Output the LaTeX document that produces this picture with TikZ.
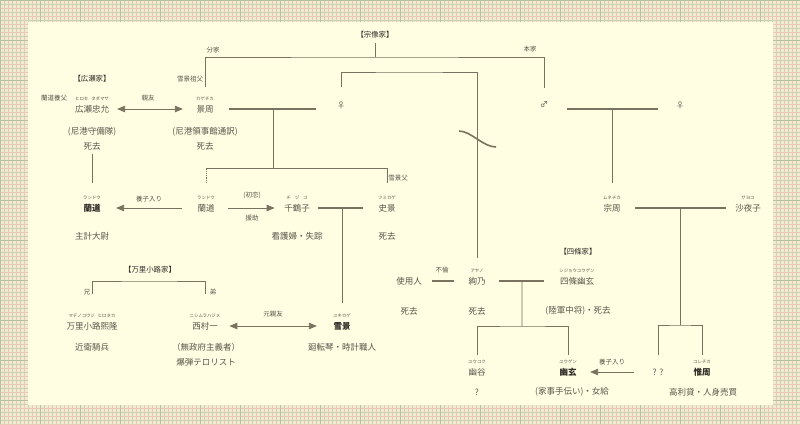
\documentclass[tikz,border=0pt]{standalone}
\usepackage{fontspec}
\setmainfont{Noto Sans CJK JP}
\usepackage{tikz}
\usetikzlibrary{positioning}
\usetikzlibrary{calc}
\usetikzlibrary{arrows}
\definecolor{paper}{HTML}{F2E9D2}
\definecolor{gridpink}{HTML}{EBC9B6}
\definecolor{gridgreen}{HTML}{CAD2B0}
\definecolor{gridmajor}{HTML}{B7C39E}
\definecolor{sheet}{HTML}{FFFDE2}
\definecolor{ink}{HTML}{5A564B}
\definecolor{inkdark}{HTML}{2E2B26}
\definecolor{wire}{HTML}{79725F}
\tikzset{person/.style={inner sep=0.5pt, text=ink, font=\fontsize{8.5}{8.5}\selectfont},
key/.style={person, text=inkdark, font=\fontsize{8.5}{8.5}\selectfont\bfseries},
note/.style={person},
ruby/.style={inner sep=0.3pt, text=ink, font=\fontsize{4.4}{4.4}\selectfont},
tag/.style={inner sep=0.5pt, text=ink, font=\fontsize{6.5}{6.5}\selectfont},
clan/.style={inner sep=0.5pt, text=inkdark, font=\fontsize{7.4}{7.4}\selectfont},
sign/.style={inner sep=0.5pt, text=ink, font=\fontsize{8}{8}\selectfont},
link/.style={draw=wire, line width=0.8pt},
bond/.style={draw=wire, line width=2pt},
gline/.style={line width=0.35pt},
>={triangle 45}}
\begin{document}
\begin{tikzpicture}[x=1pt,y=-1pt]
  \useasboundingbox (0,0) rectangle (800,424);
  \fill[paper] (0,0) rectangle (800,424);
  \foreach \g in {4,12,...,796} \draw[gline, gridgreen] (\g,0) -- (\g,424);
  \foreach \g in {0,8,...,800} \draw[gline, gridpink] (\g,0) -- (\g,424);
  \foreach \g in {4,12,...,420} \draw[gline, gridgreen] (0,\g) -- (800,\g);
  \foreach \g in {0,8,...,424} \draw[gline, gridpink] (0,\g) -- (800,\g);
  \foreach \g in {0,40,...,800} \draw[gline, gridmajor] (\g,0) -- (\g,424);
  \foreach \g in {0,40,...,400} \draw[gline, gridmajor] (0,\g) -- (800,\g);
  \fill[sheet] (28,22) rectangle (773,405);

  \node[clan] (munakata) at (375,35) {【宗像家】};
  \node[clan] (hirose) at (92,79) {【広瀬家】};
  \node[clan] (madenokoji) at (150,270) {【万里小路家】};
  \node[clan] (shijo) at (578,252) {【四條家】};

  \node[tag] (bunke) at (213,50) {分家};
  \node[tag] (honke) at (530,49) {本家};
  \node[tag] (sofu) at (190,79) {雪景祖父};
  \node[tag] (youfu) at (54,98) {蘭道養父};
  \node[tag] (shinyu) at (148,98) {親友};
  \node[tag] (yoshi1) at (149,199) {養子入り};
  \node[tag] (hatsukoi) at (252,195) {(初恋)};
  \node[tag] (enjo) at (252,218) {援助};
  \node[tag] (chichi) at (398,178) {雪景父};
  \node[tag] (furin) at (442,270) {不倫};
  \node[tag] (ani) at (87,292) {兄};
  \node[tag] (otouto) at (213,292) {弟};
  \node[tag] (motoshinyu) at (273,314) {元親友};
  \node[tag] (yoshi2) at (612,362) {養子入り};

  \node[person] (tadamasa) at (92,109) {広瀬忠允};
  \node[ruby, above=3pt of tadamasa] (tadamasa-r) {ヒロセ\hspace{3pt}タダマサ};
  \node[note] (tadamasa-n) at (92,132) {(尼港守備隊)};
  \node[note] (tadamasa-d) at (92,146) {死去};
  \node[person] (kagechika) at (205,109) {景周};
  \node[ruby, above=3pt of kagechika] (kagechika-r) {カゲチカ};
  \node[note] (kagechika-n) at (205,132) {(尼港領事館通訳)};
  \node[note] (kagechika-d) at (205,146) {死去};
  \node[sign] (venus1) at (341,105) {♀};
  \node[sign] (mars) at (544,105) {♂};
  \node[sign] (venus2) at (680,105) {♀};

  \node[key] (randou1) at (92,208) {蘭道};
  \node[ruby, above=3pt of randou1] (randou1-r) {ランドウ};
  \node[note] (randou1-n) at (92,236) {主計大尉};
  \node[person] (randou2) at (206,208) {蘭道};
  \node[ruby, above=3pt of randou2] (randou2-r) {ランドウ};
  \node[person] (chizuko) at (297,208) {千鶴子};
  \node[ruby, above=3pt of chizuko] (chizuko-r) {チ\hspace{4pt}ヅ\hspace{4pt}コ};
  \node[note] (chizuko-n) at (297,236) {看護婦・失踪};
  \node[person] (fumikage) at (387,208) {史景};
  \node[ruby, above=3pt of fumikage] (fumikage-r) {フミカゲ};
  \node[note] (fumikage-d) at (387,236) {死去};
  \node[person] (munechika) at (612,208) {宗周};
  \node[ruby, above=3pt of munechika] (munechika-r) {ムネチカ};
  \node[person] (sayoko) at (748,208) {沙夜子};
  \node[ruby, above=3pt of sayoko] (sayoko-r) {サヨコ};

  \node[person] (shiyounin) at (409,281) {使用人};
  \node[note] (shiyounin-d) at (409,311) {死去};
  \node[person] (ayano) at (477,281) {絢乃};
  \node[ruby, above=3pt of ayano] (ayano-r) {アヤノ};
  \node[note] (ayano-d) at (477,311) {死去};
  \node[person] (yuugen1) at (577,281) {四條幽玄};
  \node[ruby, above=3pt of yuugen1] (yuugen1-r) {シジョウユウゲン};
  \node[note] (yuugen1-n) at (578,311) {(陸軍中将)・死去};

  \node[person] (hirotaka) at (92,326) {万里小路熙隆};
  \node[ruby, above=3pt of hirotaka] (hirotaka-r) {マデノコウジ\hspace{3pt}ヒロタカ};
  \node[note] (hirotaka-n) at (92,347) {近衛騎兵};
  \node[person] (hajime) at (205,326) {西村一};
  \node[ruby, above=3pt of hajime] (hajime-r) {ニシムラハジメ};
  \node[note] (hajime-n) at (206,347) {（無政府主義者）};
  \node[note] (hajime-m) at (206,362) {爆弾テロリスト};
  \node[key] (yukikage) at (342,326) {雪景};
  \node[ruby, above=3pt of yukikage] (yukikage-r) {ユキカゲ};
  \node[note] (yukikage-n) at (342,347) {廻転琴・時計職人};

  \node[person] (yuukoku) at (477,372) {幽谷};
  \node[ruby, above=3pt of yuukoku] (yuukoku-r) {ユウコク};
  \node[note] (yuukoku-n) at (477,392) {?};
  \node[key] (yuugen2) at (568,372) {幽玄};
  \node[ruby, above=3pt of yuugen2] (yuugen2-r) {ユウゲン};
  \node[note] (yuugen2-n) at (572,392) {(家事手伝い)・女給};
  \node[person] (unknown) at (658,372) {? ?};
  \node[key] (korechika) at (702,372) {惟周};
  \node[ruby, above=3pt of korechika] (korechika-r) {コレチカ};
  \node[note] (korechika-n) at (703,392) {高利貸・人身売買};

  \coordinate (soutop) at (375,57);
  \coordinate (sibbar) at (409,72);
  \coordinate (kbar) at (296,168);
  \coordinate (mbar) at (150,281);
  \coordinate (ybar) at (522,326);
  \coordinate (cbar) at (680,325);
  \coordinate (m1) at ($(kagechika)!.5!(kagechika-|venus1)$);
  \coordinate (m2) at ($(mars)!.5!(venus2)+(0,4)$);
  \coordinate (m3) at ($(munechika)!.5!(sayoko)$);
  \coordinate (m4) at ($(ayano)!.45!(yuugen1)$);
  \coordinate (m5) at ($(chizuko)!.5!(fumikage)$);

  \draw[link, shorten <=4pt] (munakata) -- (munakata |- soutop);
  \draw[link, shorten <=17.5pt, shorten >=13.5pt] (kagechika) |- (soutop) -| (mars);
  \draw[link, shorten <=13.5pt, shorten >=18.5pt] (venus1) |- (sibbar) -| (ayano);
  \draw[draw=wire, line width=1.6pt] (459,131) .. controls (471,131) and (483,147) .. (496,147);
  \draw[link, <->, shorten <=7.5pt, shorten >=13pt] (tadamasa) -- (kagechika);
  \draw[bond, shorten <=15pt, shorten >=25pt] (kagechika) -- (kagechika -| venus1);
  \draw[bond, shorten <=23pt, shorten >=22pt] ([yshift=-4pt]mars.center) -- ([yshift=-4pt]venus2.center);
  \draw[link, shorten <=3pt, shorten >=20.5pt] (tadamasa-d) -- (randou1);
  \draw[link] (m1) -- (m1 |- kbar);
  \draw[link, densely dotted, shorten <=20.5pt] (randou2) -- (randou2 |- kbar);
  \draw[link, shorten >=20.5pt] (randou2 |- kbar) -| (fumikage);
  \draw[link, shorten >=20.5pt] (m2) -- (munechika);
  \draw[link, ->, shorten <=15pt, shorten >=15pt] (randou2) -- (randou1);
  \draw[link, ->, shorten <=13pt, shorten >=9pt] (randou2) -- (chizuko);
  \draw[bond, shorten <=8pt, shorten >=15pt] (chizuko) -- (fumikage);
  \draw[link, shorten >=18.5pt] (m5) -- (yukikage);
  \draw[bond, shorten <=14pt, shorten >=9pt] (munechika) -- (sayoko);
  \draw[link] (m3) -- (cbar);
  \draw[link, shorten <=13pt, shorten >=12.5pt] (unknown) |- (cbar) -| (korechika);
  \draw[bond, shorten <=10pt, shorten >=14pt] (shiyounin) -- (ayano);
  \draw[bond, shorten <=13pt, shorten >=15.5pt] (ayano) -- (yuugen1);
  \draw[link] (m4) -- (ybar);
  \draw[link, shorten <=12.5pt, shorten >=12.5pt] (yuukoku) |- (ybar) -| (yuugen2);
  \draw[link, shorten <=27.5pt, shorten >=27.5pt] (hirotaka) |- (mbar) -| (hajime);
  \draw[link, <->, shorten <=11pt, shorten >=16pt] (hajime) -- (yukikage);
  \draw[link, ->, shorten <=18pt, shorten >=13pt] (unknown) -- (yuugen2);
\end{tikzpicture}
\end{document}
